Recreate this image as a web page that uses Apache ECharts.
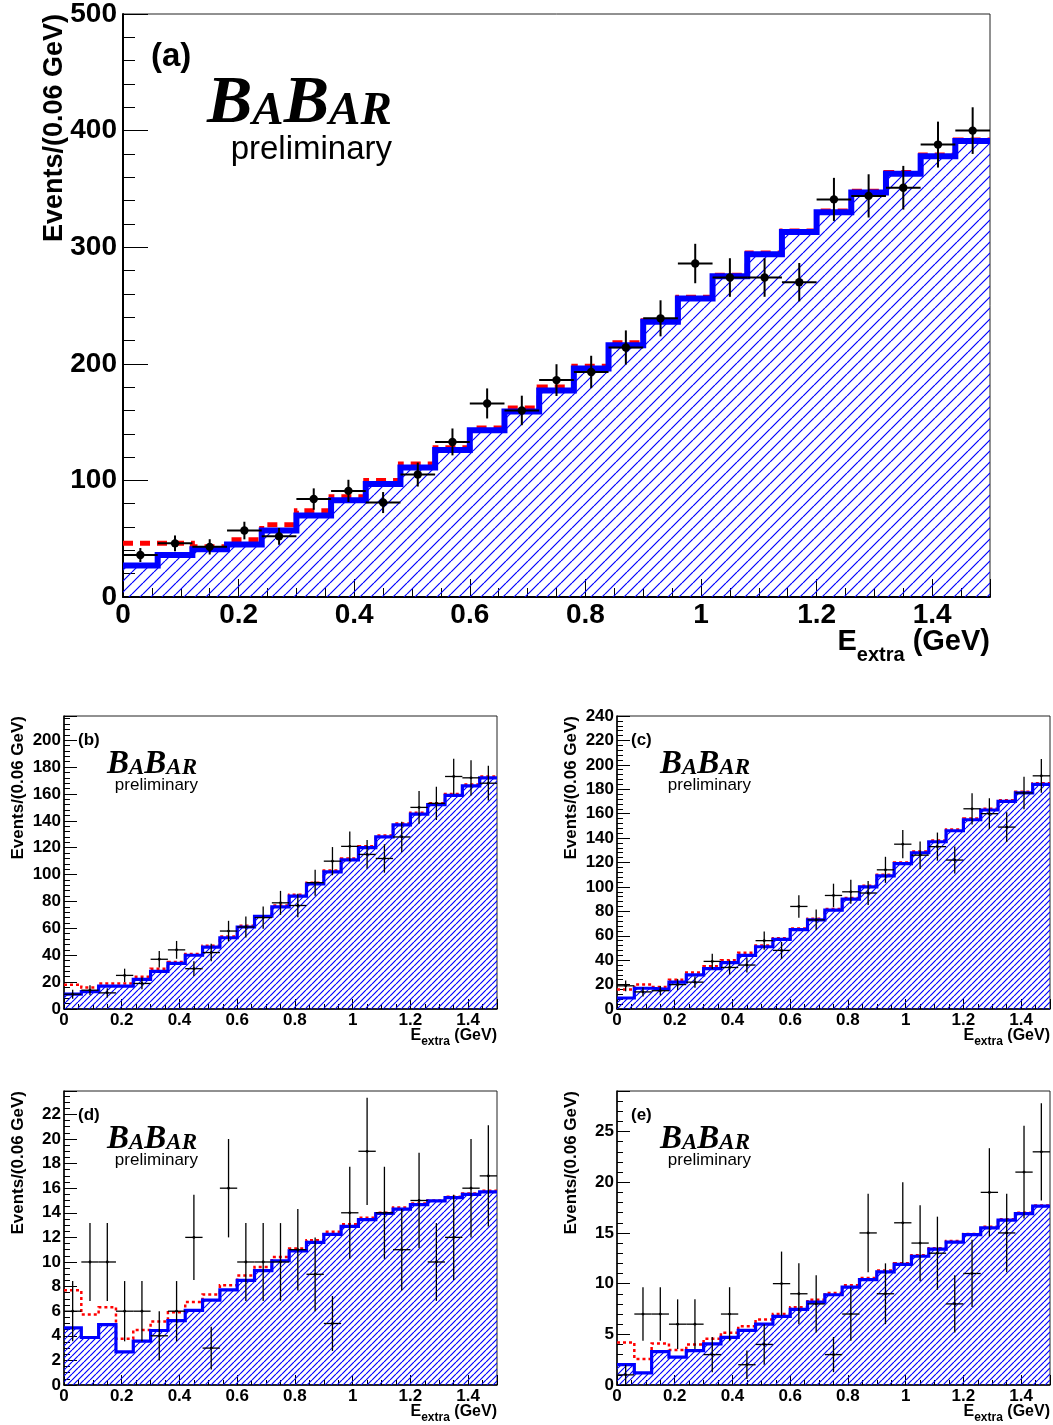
<!DOCTYPE html>
<html><head><meta charset="utf-8">
<script src="https://cdn.jsdelivr.net/npm/echarts@6/dist/echarts.min.js"></script>
<style>html,body{margin:0;padding:0;background:#fff}#c{width:1053px;height:1425px}</style>
</head><body><div id="c"></div>
<script>
// ---------------- data ----------------
const binWidth = 0.06;           // GeV per bin, 25 bins from 0 to 1.5
const xTickLabels = [0, 0.2, 0.4, 0.6, 0.8, 1, 1.2, 1.4];

const yTicksA = [0, 100, 200, 300, 400, 500];
const yTicksB = [0, 20, 40, 60, 80, 100, 120, 140, 160, 180, 200];
const yTicksC = [0, 20, 40, 60, 80, 100, 120, 140, 160, 180, 200, 220, 240];
const yTicksD = [0, 2, 4, 6, 8, 10, 12, 14, 16, 18, 20, 22];
const yTicksE = [0, 5, 10, 15, 20, 25];

// (a)
const dataA = [36,46,43,57,52,84,91,81,105,133,166,160,186,193,214,239,286,274,274,270,341,344,351,388,400];
const bkgA  = [27,36,41,45,57,70,83,97,111,126,143,159,177,196,216,236,256,275,294,313,330,347,363,378,391];
const totA  = [46,46,43,49,62,74,86,100,114,128,145,162,180,198,218,237,257,276,295,314,331,348,364,379,392];
// (b)
const dataB = [11,14,12,25,19,37,44,30,42,58,61,68,79,77,94,110,121,115,112,128,150,153,173,172,168];
const bkgB  = [11,13,17,17,22,28,34,40,46,53,61,69,76,84,93,102,111,120,128,137,145,152,159,166,172];
const totB  = [18,16,19,19,24,30,35,41,47,54,62,69,77,85,94,103,112,121,129,138,146,153,160,167,173];
// (c)
const dataC = [19,14,15,20,22,39,34,36,56,48,84,73,93,96,95,114,135,126,133,122,164,160,149,177,191];
const bkgC  = [9,17,16,22,28,33,38,44,51,57,65,73,81,90,100,109,119,128,137,146,155,163,170,177,184];
const totC  = [16,20,18,24,30,35,40,46,52,58,66,74,82,91,101,110,120,129,138,147,156,164,171,178,185];
// (d)
const dataD = [6,10,10,6,6,4,6,12,3,16,10,10,10,11,9,5,14,19,14,11,15,10,12,16,17];
const bkgD  = [4.65,3.86,4.9,2.7,3.56,4.43,5.24,6.06,6.9,7.74,8.5,9.3,10.1,10.9,11.6,12.25,12.9,13.45,13.94,14.3,14.67,14.97,15.24,15.5,15.7];
const totD  = [7.7,5.73,6.33,3.75,4.48,5.16,5.92,6.74,7.36,8.1,8.9,9.6,10.4,11.1,11.77,12.45,13.07,13.6,14.0,14.43,14.76,15.0,15.3,15.57,15.8];
// (e)
const dataE = [1,7,7,6,6,3,7,2,4,10,9,8,3,7,15,9,16,14,13,8,11,19,15,21,23];
const bkgE  = [2.0,1.2,3.3,2.74,3.4,4.06,4.7,5.38,6.0,6.76,7.45,8.18,8.9,9.66,10.4,11.15,11.9,12.7,13.4,14.1,14.84,15.5,16.26,16.9,17.64];
const totE  = [4.2,2.57,4.1,3.46,4.0,4.55,5.15,5.8,6.46,7.0,7.68,8.4,9.07,9.83,10.55,11.3,12.0,12.8,13.5,14.2,14.9,15.6,16.36,17.0,17.7];

const panelLabels = ['(a)', '(b)', '(c)', '(d)', '(e)'];
const yTitle = 'Events/(0.06 GeV)';

// ---------------- layout / style ----------------
const SANS = '"Liberation Sans", Arial, Helvetica, sans-serif';
const SERIF = '"Liberation Serif", "Times New Roman", serif';

const big = { label: 28, yMargin: 6, xMargin: 4, yTick: 25, yMinor: 12, xTick: 18, xMinor: 9, axisW: 2,
  blueW: 6, redW: 5, dash: [10, 7], hatch: 11, hatchW: 1.2, dotR: 4.2, errW: 2,
  tag: 33, logoB: 68, logoS: 47, prelim: 33, ytitle: 27, xt: 29, xs: 20, xsDy: 10 };
const small = { label: 17, yMargin: 3, xMargin: 3, yTick: 13, yMinor: 6, xTick: 10, xMinor: 5, axisW: 1.5,
  blueW: 3.2, redW: 2.5, dash: [3, 3], hatch: 6, hatchW: 1.2, dotR: 1.4, errW: 1.3,
  tag: 17, logoB: 33, logoS: 23, prelim: 17, ytitle: 17, xt: 16, xs: 12, xsDy: 5 };

const panels = [
  { data: dataA, bkg: bkgA, tot: totA, yMax: 500, yInt: 100, yMinor: 5, yTicks: yTicksA,
    grid: { left: 123, top: 14, width: 867, height: 583 }, s: big,
    tagPos: [151, 57], logoPos: [207, 128], prelimPos: [392, 161], yTitlePos: [55, 14], xTitlePos: [990, 652] },
  { data: dataB, bkg: bkgB, tot: totB, yMax: 218, yInt: 20, yMinor: 5, yTicks: yTicksB,
    grid: { left: 64, top: 716, width: 433, height: 293 }, s: small },
  { data: dataC, bkg: bkgC, tot: totC, yMax: 240, yInt: 20, yMinor: 5, yTicks: yTicksC,
    grid: { left: 617, top: 716, width: 433, height: 293 }, s: small },
  { data: dataD, bkg: bkgD, tot: totD, yMax: 23.9, yInt: 2, yMinor: 4, yTicks: yTicksD,
    grid: { left: 64, top: 1091, width: 433, height: 294 }, s: small },
  { data: dataE, bkg: bkgE, tot: totE, yMax: 29, yInt: 5, yMinor: 5, yTicks: yTicksE,
    grid: { left: 617, top: 1091, width: 433, height: 294 }, s: small }
];
// relative placements of texts for the small panels
panels.slice(1).forEach(p => {
  const g = p.grid;
  p.tagPos = [g.left + 14, g.top + 24];
  p.logoPos = [g.left + 43, g.top + 60];
  p.prelimPos = [g.left + 134, g.top + 75];
  p.yTitlePos = [g.left - 46, g.top];
  p.xTitlePos = [g.left + g.width, g.top + g.height + 32];
});

// ---------------- helpers ----------------
const mctx = document.createElement('canvas').getContext('2d');
function measure(text, font) { mctx.font = font; return mctx.measureText(text).width; }

function hatchPattern(s, w) {
  const c = document.createElement('canvas');
  c.width = s; c.height = s;
  const ctx = c.getContext('2d');
  ctx.strokeStyle = '#0000ff';
  ctx.lineWidth = w;
  ctx.beginPath();
  for (const k of [-1, 0, 1]) { ctx.moveTo(k * s, s); ctx.lineTo(k * s + s, 0); }
  ctx.stroke();
  return c;
}

function stepData(vals) {
  const out = vals.map((v, i) => [i * binWidth, v]);
  out.push([vals.length * binWidth, vals[vals.length - 1]]);
  return out;
}

function tickFormatter(list) {
  return function (v) {
    const m = list.find(t => Math.abs(t - v) < 1e-6);
    return m === undefined ? '' : String(m);
  };
}

const graphics = [];
function baseText(x, baseY, text, size, family, weight, style, align) {
  graphics.push({
    type: 'text', x: x, y: baseY - 0.345 * size, z: 100, silent: true,
    style: { text: text, fontSize: size, fontFamily: family, fontWeight: weight, fontStyle: style,
      fill: '#000', align: align || 'left', verticalAlign: 'middle' }
  });
}

function addTexts(p, idx) {
  const s = p.s;
  graphics.push({ type: 'text', x: p.tagPos[0], y: p.tagPos[1], z: 100, silent: true,
    style: { text: panelLabels[idx], fontSize: s.tag, fontFamily: SANS, fontWeight: 'bold', fill: '#000',
      align: 'left', verticalAlign: 'middle' } });
  const parts = [['B', s.logoB], ['A', s.logoS], ['B', s.logoB], ['AR', s.logoS]];
  let x = p.logoPos[0];
  for (const [t, sz] of parts) {
    baseText(x, p.logoPos[1], t, sz, SERIF, 'bold', 'italic', 'left');
    x += measure(t, `italic bold ${sz}px ${SERIF}`);
  }
  baseText(p.prelimPos[0], p.prelimPos[1], 'preliminary', s.prelim, SANS, 'normal', 'normal', 'right');
  graphics.push({ type: 'text', x: p.yTitlePos[0], y: p.yTitlePos[1], rotation: Math.PI / 2, z: 100, silent: true,
    style: { text: yTitle, fontSize: s.ytitle, fontFamily: SANS, fontWeight: 'bold', fill: '#000',
      align: 'right', verticalAlign: 'middle' } });
  const fE = `bold ${s.xt}px ${SANS}`, fs = `bold ${s.xs}px ${SANS}`;
  const wE = measure('E', fE), wx = measure('extra', fs), wg = measure(' (GeV)', fE);
  let xx = p.xTitlePos[0] - (wE + wx + wg);
  const by = p.xTitlePos[1];
  baseText(xx, by, 'E', s.xt, SANS, 'bold', 'normal', 'left'); xx += wE;
  baseText(xx, by + s.xsDy, 'extra', s.xs, SANS, 'bold', 'normal', 'left'); xx += wx;
  baseText(xx, by, ' (GeV)', s.xt, SANS, 'bold', 'normal', 'left');
}

// ---------------- option ----------------
const grids = [], xAxes = [], yAxes = [], series = [];
panels.forEach((p, i) => {
  const s = p.s;
  grids.push(Object.assign({}, p.grid, { show: true, borderColor: '#222', borderWidth: 1,
    backgroundColor: 'transparent', containLabel: false, outerBoundsMode: 'none' }));
  const axisCommon = {
    axisLine: { show: true, onZero: false, lineStyle: { color: '#000', width: s.axisW } },
    splitLine: { show: false }, minorSplitLine: { show: false }
  };
  xAxes.push(Object.assign({}, axisCommon, {
    type: 'value', gridIndex: i, min: 0, max: 1.5, interval: 0.2,
    axisTick: { show: true, inside: true, length: s.xTick, lineStyle: { color: '#000', width: 1 } },
    minorTick: { show: true, splitNumber: 4, length: s.xMinor, lineStyle: { color: '#000', width: 1 } },
    axisLabel: { show: true, formatter: tickFormatter(xTickLabels), fontSize: s.label, fontWeight: 'bold',
      fontFamily: SANS, color: '#000', margin: s.xMargin, hideOverlap: false }
  }));
  yAxes.push(Object.assign({}, axisCommon, {
    type: 'value', gridIndex: i, min: 0, max: p.yMax, interval: p.yInt,
    axisTick: { show: true, inside: true, length: s.yTick, lineStyle: { color: '#000', width: 1 } },
    minorTick: { show: true, splitNumber: p.yMinor, length: s.yMinor, lineStyle: { color: '#000', width: 1 } },
    axisLabel: { show: true, formatter: tickFormatter(p.yTicks), fontSize: s.label, fontWeight: 'bold',
      fontFamily: SANS, color: '#000', margin: s.yMargin, hideOverlap: false }
  }));
  series.push({ type: 'line', xAxisIndex: i, yAxisIndex: i, data: stepData(p.tot), step: 'end',
    symbol: 'none', silent: true, z: 2,
    lineStyle: { color: '#ff0000', width: s.redW, type: s.dash, join: 'miter', cap: 'butt' } });
  series.push({ type: 'line', xAxisIndex: i, yAxisIndex: i, data: stepData(p.bkg), step: 'end',
    symbol: 'none', silent: true, z: 3, color: '#0000ff',
    lineStyle: { color: '#0000ff', width: s.blueW, join: 'miter', cap: 'butt' },
    areaStyle: { color: { image: hatchPattern(s.hatch, s.hatchW), repeat: 'repeat' }, opacity: 1 } });
  series.push({ type: 'custom', xAxisIndex: i, yAxisIndex: i, z: 5, silent: true,
    data: p.data.map((v, k) => [(k + 0.5) * binWidth, v, Math.sqrt(v)]),
    renderItem: function (params, api) {
      const x = api.value(0), y = api.value(1), e = api.value(2);
      const pc = api.coord([x, y]);
      const pl = api.coord([x - binWidth / 2, y]), pr = api.coord([x + binWidth / 2, y]);
      const pt = api.coord([x, y + e]), pb = api.coord([x, Math.max(0, y - e)]);
      const st = { stroke: '#000', lineWidth: s.errW };
      return { type: 'group', children: [
        { type: 'line', shape: { x1: pl[0], y1: pl[1], x2: pr[0], y2: pr[1] }, style: st },
        { type: 'line', shape: { x1: pt[0], y1: pt[1], x2: pb[0], y2: pb[1] }, style: st },
        { type: 'circle', shape: { cx: pc[0], cy: pc[1], r: s.dotR }, style: { fill: '#000' } }
      ] };
    } });
  addTexts(p, i);
});

const chart = echarts.init(document.getElementById('c'), null, { renderer: 'canvas', width: 1053, height: 1425 });
chart.setOption({
  animation: false,
  backgroundColor: '#fff',
  grid: grids, xAxis: xAxes, yAxis: yAxes, series: series,
  graphic: { elements: graphics }
});
</script></body></html>
